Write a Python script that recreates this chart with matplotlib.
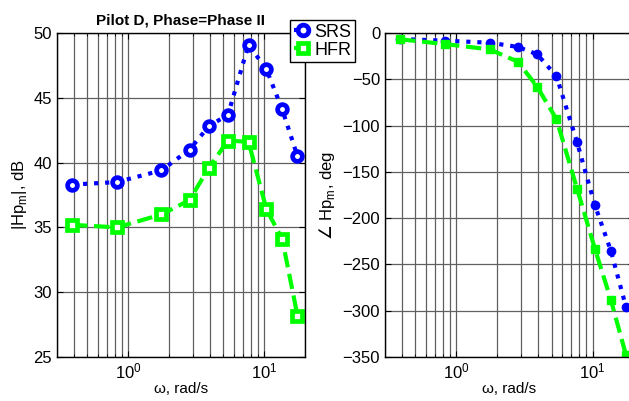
import matplotlib
matplotlib.use("Agg")
import matplotlib.pyplot as plt
from matplotlib.ticker import LogLocator, NullFormatter

plt.rcParams['font.family'] = ['Liberation Sans', 'DejaVu Sans']

freq = [0.387, 0.83, 1.76, 2.83, 3.92, 5.43, 7.69, 10.4, 13.6, 17.6]
srs_mag = [38.3, 38.5, 39.4, 41.0, 42.8, 43.7, 49.1, 47.2, 44.1, 40.5]
hfr_mag = [35.2, 35.0, 36.0, 37.1, 39.6, 41.7, 41.6, 36.4, 34.1, 28.2]
srs_phase = [-6.5, -8.3, -10.5, -15, -23, -46.5, -118, -186, -235, -296]
hfr_phase = [-6.8, -12, -17.7, -31, -58, -93, -168, -233, -288, -348]
mag_ticks = [25, 30, 35, 40, 45, 50]
phase_ticks = [-350, -300, -250, -200, -150, -100, -50, 0]

W, H = 629, 401
fig = plt.figure(figsize=(W / 100, H / 100), dpi=100)
ax1 = fig.add_axes([57 / W, 1 - 357 / H, 248 / W, 324 / H])
ax2 = fig.add_axes([385 / W, 1 - 357 / H, 248.6 / W, 324 / H])

blue = (0, 0, 1)
green = (0, 1, 0)

l1, = ax1.plot(freq, srs_mag, ':', color=blue, lw=3, marker='o', ms=7, mew=3.4,
               mfc='white', mec=blue, label='SRS')
l2, = ax1.plot(freq, hfr_mag, '--', color=green, lw=3, marker='s', ms=7, mew=3.4,
               mfc='white', mec=green, label='HFR')
ax2.plot(freq, srs_phase, ':', color=blue, lw=3, marker='o', ms=6, mfc=blue, mec=blue)
ax2.plot(freq, hfr_phase, '--', color=green, lw=3, marker='s', ms=6, mfc=green, mec=green)

for ax in (ax1, ax2):
    ax.set_xscale('log')
    ax.set_xlim(0.3, 20)
    ax.xaxis.set_major_locator(LogLocator(base=10, numticks=10))
    ax.xaxis.set_minor_locator(LogLocator(base=10, subs=range(2, 10), numticks=20))
    ax.xaxis.set_minor_formatter(NullFormatter())
    ax.grid(True, which='major', color='#606060', lw=0.9)
    ax.grid(True, which='minor', axis='x', color='#606060', lw=0.9)
    ax.tick_params(which='both', direction='in', top=True, right=True, labelsize=12)
    ax.tick_params(which='major', length=4)
    ax.tick_params(which='minor', length=2)
    ax.set_xlabel('ω, rad/s', fontsize=11, labelpad=0)
    for s in ax.spines.values():
        s.set_linewidth(1.0)

ax1.set_ylim(25, 50)
ax1.set_yticks(mag_ticks)
ax1.set_ylabel('|Hp$_\\mathregular{m}$|, dB', fontsize=12, labelpad=3)
ax1.set_title('Pilot D, Phase=Phase II', fontsize=11, fontweight='bold', pad=6)

ax2.set_ylim(-350, 0)
ax2.set_yticks(phase_ticks)
ax2.set_ylabel('$\\angle$ Hp$_\\mathregular{m}$, deg', fontsize=12, labelpad=4)

leg = fig.legend(handles=[l1, l2], loc='upper left',
                 bbox_to_anchor=(290 / W, 1 - 20 / H), fontsize=13,
                 handlelength=1.0, handletextpad=0.15, borderpad=0.2,
                 labelspacing=0.05, borderaxespad=0, fancybox=False,
                 framealpha=1, edgecolor='black', markerscale=1.1)
leg.get_frame().set_linewidth(1.0)

fig.savefig('out.png', dpi=100)
